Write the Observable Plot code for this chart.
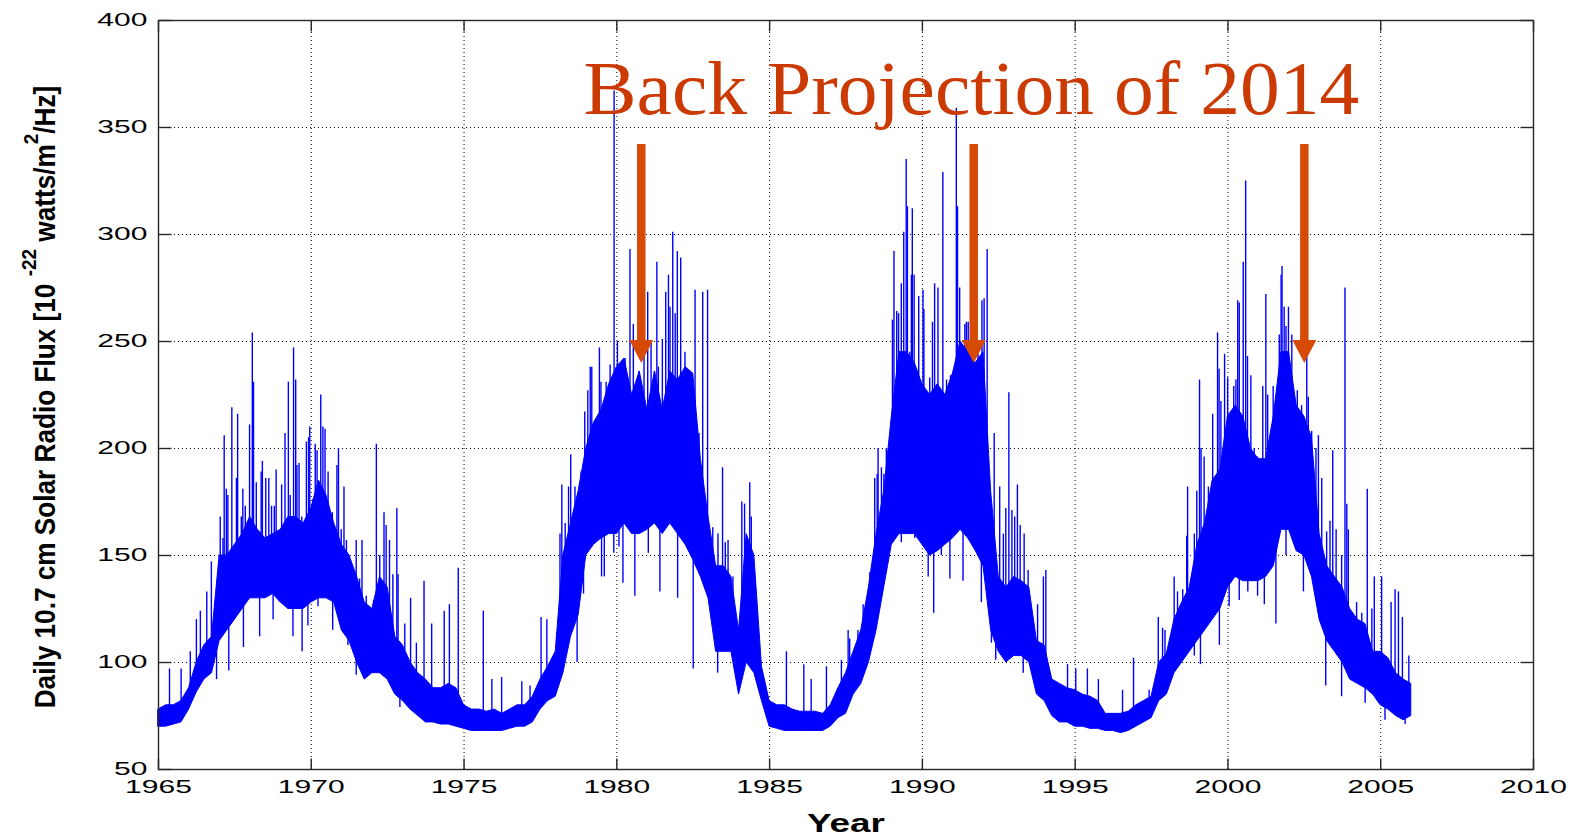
<!DOCTYPE html>
<html>
<head>
<meta charset="utf-8">
<script src="https://cdn.jsdelivr.net/npm/d3@7"></script>
<script src="https://cdn.jsdelivr.net/npm/@observablehq/plot@0.6"></script>
<style>
  html, body { margin: 0; padding: 0; background: #fff; }
  #chart { width: 1577px; height: 837px; }
</style>
</head>
<body>
<div id="chart"></div>
<script>
// Daily 10.7 cm solar radio flux, 1965–2006.
// The dense daily trace is summarised as a low/high core envelope every quarter year,
// plus the individual days that reach above it (flares) and below it (quiet days).
const startYear = 1965;
const stepYears = 0.25;

const lowFlux = [
  70, 70, 71, 72,     78, 86, 92, 95,     110, 115, 120, 125,  130, 130, 130, 132,
  128, 125, 125, 125, 128, 130, 130, 128, 115, 110, 100, 92,   95, 95, 92, 85,
  82, 78, 75, 72,     72, 71, 71, 70,     69, 68, 68, 68,      68, 68, 69, 70,
  70, 72, 78, 82,     84, 95, 112, 122,   150, 155, 158, 160,  160, 165, 160, 160,
  162, 165, 160, 165, 160, 155, 148, 140, 130, 105, 105, 105,  85, 100, 95, 82,
  70, 69, 68, 68,     68, 68, 68, 68,     70, 74, 76, 85,      90, 100, 115, 135,
  155, 160, 160, 160, 155, 150, 152, 155, 158, 162, 158, 152,  145, 115, 105, 100,
  103, 103, 100, 85,  82, 75, 72, 72,     70, 70, 69, 69,      68, 68, 67, 68,
  70, 72, 74, 82,     85, 95, 100, 105,   110, 115, 120, 125,  135, 140, 138, 138,
  138, 140, 145, 162, 162, 152, 150, 140, 120, 110, 105, 100,  92, 90, 88, 85,
  80, 78, 75, 73,     75
];
const highFlux = [
  78, 80, 80, 82,     88, 100, 108, 112,  150, 150, 155, 160,  168, 162, 158, 160,
  162, 168, 168, 165, 172, 185, 178, 165, 155, 150, 140, 128,  125, 140, 135, 112,
  108, 100, 95, 92,   88, 88, 90, 88,     80, 78, 78, 77,      78, 76, 78, 80,
  80, 84, 92, 98,     105, 150, 165, 180, 200, 212, 218, 230,  238, 242, 225, 236,
  218, 236, 218, 236, 232, 238, 235, 195, 168, 145, 145, 140,  115, 160, 150, 98,
  82, 80, 80, 78,     77, 77, 77, 76,     80, 88, 95, 105,     115, 135, 160, 180,
  215, 245, 245, 240, 230, 225, 230, 225, 235, 250, 245, 240,  245, 180, 140, 135,
  140, 138, 135, 110, 108, 92, 90, 88,    87, 85, 84, 82,      76, 76, 76, 77,
  80, 82, 84, 100,    104, 120, 128, 135, 155, 165, 185, 190,  215, 220, 215, 200,
  195, 195, 215, 245, 245, 220, 215, 205, 160, 145, 140, 135,  125, 120, 118, 105,
  105, 102, 95, 92,   90
];

// days above the core envelope
const spikeYears = [
  1965.36, 1965.74, 1966.04, 1966.24, 1966.37, 1966.58, 1966.73, 1967.02, 1967.11, 1967.15,
  1967.22, 1967.27, 1967.40, 1967.55, 1967.59, 1967.71, 1967.76, 1967.84, 1967.98, 1968.07,
  1968.11, 1968.20, 1968.36, 1968.40, 1968.51, 1968.61, 1968.70, 1968.79, 1968.85, 1968.96,
  1969.03, 1969.14, 1969.25, 1969.31, 1969.42, 1969.49, 1969.53, 1969.60, 1969.69, 1969.84,
  1969.91, 1969.95, 1970.05, 1970.13, 1970.19, 1970.31, 1970.38, 1970.45, 1970.55, 1970.69,
  1970.84, 1970.89, 1970.98, 1971.07, 1971.15, 1971.31, 1971.47, 1971.58, 1971.66, 1971.80,
  1972.04, 1972.13, 1972.24, 1972.38, 1972.45, 1972.56, 1972.67, 1972.80, 1972.84, 1973.06,
  1973.25, 1973.44, 1973.69, 1973.94, 1974.35, 1974.52, 1974.81, 1975.63, 1975.91, 1976.23,
  1976.89, 1977.16, 1977.52, 1977.71, 1978.03, 1978.14, 1978.20, 1978.31, 1978.42, 1978.49,
  1978.63, 1978.74, 1978.83, 1978.95, 1979.05, 1979.13, 1979.18, 1979.43, 1979.48, 1979.65,
  1979.78, 1979.91, 1980.02, 1980.27, 1980.43, 1980.54, 1980.73, 1980.89, 1981.01, 1981.12,
  1981.23, 1981.31, 1981.36, 1981.49, 1981.60, 1981.69, 1981.74, 1981.83, 1981.91, 1981.98,
  1982.09, 1982.23, 1982.40, 1982.56, 1982.69, 1982.81, 1982.97, 1983.14, 1983.31, 1983.46,
  1983.55, 1983.64, 1983.80, 1984.09, 1984.18, 1984.35, 1984.40, 1985.55, 1986.12, 1986.36,
  1986.86, 1987.35, 1987.57, 1987.62, 1987.89, 1988.06, 1988.13, 1988.28, 1988.38, 1988.44,
  1988.52, 1988.55, 1988.66, 1988.74, 1988.82, 1988.88, 1989.02, 1989.07, 1989.16, 1989.22,
  1989.31, 1989.39, 1989.47, 1989.51, 1989.59, 1989.64, 1989.67, 1989.73, 1989.88, 1990.02,
  1990.05, 1990.24, 1990.33, 1990.40, 1990.51, 1990.67, 1990.79, 1990.92, 1991.11, 1991.15,
  1991.22, 1991.39, 1991.44, 1991.50, 1991.82, 1991.95, 1992.02, 1992.12, 1992.18, 1992.35,
  1992.53, 1992.65, 1992.73, 1992.83, 1992.93, 1993.02, 1993.11, 1993.20, 1993.33, 1993.46,
  1993.77, 1993.96, 1994.04, 1994.75, 1995.02, 1995.40, 1995.76, 1996.55, 1996.91, 1997.42,
  1997.72, 1997.86, 1997.94, 1998.13, 1998.24, 1998.35, 1998.46, 1998.52, 1998.65, 1998.68,
  1998.90, 1998.98, 1999.07, 1999.12, 1999.22, 1999.36, 1999.50, 1999.66, 1999.71, 1999.77,
  1999.89, 1999.99, 2000.19, 2000.26, 2000.32, 2000.37, 2000.50, 2000.58, 2000.64, 2000.75,
  2000.86, 2000.97, 2001.14, 2001.24, 2001.30, 2001.48, 2001.68, 2001.74, 2001.77, 2001.84,
  2001.90, 2001.98, 2002.09, 2002.27, 2002.41, 2002.58, 2002.63, 2002.74, 2002.88, 2002.96,
  2003.07, 2003.23, 2003.34, 2003.43, 2003.54, 2003.72, 2003.83, 2003.89, 2003.94, 2004.21,
  2004.38, 2004.56, 2004.71, 2004.79, 2005.03, 2005.34, 2005.47, 2005.58, 2005.71, 2005.92
];
const spikeFlux = [
  97, 97, 105, 120, 124, 133, 147, 168, 158, 206,
  181, 178, 219, 186, 216, 168, 181, 173, 211, 254,
  231, 184, 189, 194, 186, 186, 173, 173, 190, 150,
  183, 207, 231, 178, 247, 232, 192, 193, 168, 203,
  205, 210, 176, 202, 199, 225, 210, 209, 189, 170,
  192, 200, 162, 182, 157, 141, 157, 139, 157, 131,
  129, 202, 150, 170, 164, 157, 141, 172, 141, 118,
  130, 109, 138, 118, 124, 127, 144, 124, 92, 93,
  91, 89, 121, 120, 114, 160, 183, 165, 182, 197,
  182, 179, 189, 217, 227, 238, 238, 247, 231, 231,
  239, 367, 250, 242, 293, 258, 236, 245, 273, 250,
  236, 287, 238, 251, 273, 281, 266, 301, 263, 292,
  289, 245, 231, 274, 207, 273, 274, 163, 160, 191,
  156, 157, 140, 175, 174, 184, 168, 105, 99, 92,
  98, 101, 115, 111, 115, 127, 123, 142, 146, 186,
  188, 200, 191, 188, 200, 194, 260, 292, 264, 263,
  277, 301, 335, 313, 245, 281, 312, 281, 271, 274,
  265, 233, 259, 277, 275, 329, 232, 234, 359, 313,
  275, 258, 259, 259, 249, 269, 270, 293, 186, 207,
  182, 160, 172, 226, 171, 168, 183, 164, 160, 143,
  127, 140, 143, 99, 97, 97, 92, 87, 102, 87,
  121, 116, 115, 105, 140, 133, 127, 134, 159, 182,
  160, 180, 232, 200, 196, 182, 216, 254, 237, 222,
  244, 233, 229, 232, 269, 268, 287, 325, 243, 234,
  200, 196, 229, 272, 225, 229, 253, 281, 285, 266,
  257, 266, 253, 227, 220, 243, 224, 208, 200, 206,
  186, 161, 166, 199, 162, 150, 275, 174, 162, 128,
  123, 181, 125, 140, 140, 128, 134, 133, 121, 103
];

// days below the core envelope
const dipYears = [
  1966.90, 1967.22, 1967.30, 1967.78, 1968.31, 1968.75, 1969.40, 1969.70, 1969.89, 1970.22,
  1970.70, 1971.09, 1971.20, 1971.47, 1972.90, 1978.70, 1978.91, 1979.26, 1979.50, 1979.59,
  1979.90, 1980.07, 1980.20, 1980.59, 1981.03, 1981.41, 1981.99, 1982.50, 1983.30, 1989.00,
  1989.31, 1989.75, 1990.19, 1990.37, 1990.62, 1990.90, 1991.33, 1991.55, 1991.93, 1992.26,
  1992.40, 1993.30, 1998.90, 1999.10, 1999.44, 1999.72, 2000.04, 2000.37, 2000.65, 2000.97,
  2001.19, 2001.57, 2001.90, 2001.95, 2002.47, 2003.20, 2003.72, 2004.49, 2005.14, 2005.80
];
const dipFlux = [
  92, 118, 96, 107, 112, 120, 112, 105, 117, 126,
  115, 118, 108, 94, 79, 100, 132, 157, 140, 140,
  151, 154, 137, 131, 151, 133, 130, 97, 95, 156,
  156, 158, 140, 123, 150, 139, 138, 160, 128, 109,
  101, 95, 103, 99, 128, 108, 126, 129, 133, 131,
  127, 118, 150, 166, 133, 89, 84, 81, 73, 71
];

// Axis ticks and grid
const xTicks = [1965, 1970, 1975, 1980, 1985, 1990, 1995, 2000, 2005, 2010];
const yTicks = [50, 100, 150, 200, 250, 300, 350, 400];
const xGrid = [1970, 1975, 1980, 1985, 1990, 1995, 2000, 2005];
const yGrid = [100, 150, 200, 250, 300, 350];

// Annotation arrows: one cycle-length back from 2014
const arrowYears = [1980.8, 1991.68, 2002.5];
const arrowTopFlux = [342, 342, 342];
const arrowHeadFlux = [250, 250, 250];
const arrowTipFlux = [240, 240, 240];

const titleText = "Back Projection of 2014";

// ---- derived tables ----
const band = lowFlux.map((lo, i) => ({year: startYear + i * stepYears, lo, hi: highFlux[i]}));
function bandMid(t) {
  const i = Math.max(0, Math.min(band.length - 1, Math.round((t - startYear) / stepYears)));
  return (band[i].lo + band[i].hi) / 2;
}
const spikes = spikeYears.map((year, i) => ({year, base: bandMid(year), flux: spikeFlux[i]}));
const dips = dipYears.map((year, i) => ({year, base: bandMid(year), flux: dipFlux[i]}));
const arrows = arrowYears.map((year, i) => ({year, top: arrowTopFlux[i], head: arrowHeadFlux[i], tip: arrowTipFlux[i]}));

// ---- symbols for inward ticks and arrow heads ----
const tickUp = {draw(c) { c.moveTo(0, 0); c.lineTo(0, -11); }};
const tickDown = {draw(c) { c.moveTo(0, 0); c.lineTo(0, 11); }};
const tickRight = {draw(c) { c.moveTo(0, 0); c.lineTo(13, 0); }};
const tickLeft = {draw(c) { c.moveTo(0, 0); c.lineTo(-13, 0); }};
const arrowHead = {draw(c) { c.moveTo(0, 0); c.lineTo(-12, -23); c.lineTo(12, -23); c.closePath(); }};

const lineBlue = "#0000ff";
const axisInk = "#262626";
const arrowInk = "#d64a06";
const titleInk = "#cc3a04";

const chart = Plot.plot({
  width: 1577,
  height: 837,
  marginTop: 20,
  marginRight: 44,
  marginBottom: 68,
  marginLeft: 158,
  style: {background: "#fff", fontFamily: "'Liberation Sans', Arial, sans-serif", color: "#000"},
  x: {domain: [1965, 2010], axis: null},
  y: {domain: [50, 400], axis: null},
  marks: [
    // dotted grid
    Plot.ruleX(xGrid, {x: d => d, stroke: "#000", strokeWidth: 1, strokeDasharray: "1,3"}),
    Plot.ruleY(yGrid, {y: d => d, stroke: "#000", strokeWidth: 1, strokeDasharray: "1,3"}),

    // daily flux trace
    Plot.areaY(band, {x: "year", y1: "lo", y2: "hi", fill: lineBlue, stroke: lineBlue, strokeWidth: 1, curve: "linear"}),
    Plot.ruleX(spikes, {x: "year", y1: "base", y2: "flux", stroke: lineBlue, strokeWidth: 1.4}),
    Plot.ruleX(dips, {x: "year", y1: "base", y2: "flux", stroke: lineBlue, strokeWidth: 1.4}),

    // box and inward ticks
    Plot.frame({stroke: axisInk, strokeWidth: 1.4}),
    Plot.dot(xTicks, {x: d => d, frameAnchor: "bottom", symbol: tickUp, stroke: axisInk, fill: "none", strokeWidth: 1.4}),
    Plot.dot(xTicks, {x: d => d, frameAnchor: "top", symbol: tickDown, stroke: axisInk, fill: "none", strokeWidth: 1.4}),
    Plot.dot(yTicks, {y: d => d, frameAnchor: "left", symbol: tickRight, stroke: axisInk, fill: "none", strokeWidth: 1.4}),
    Plot.dot(yTicks, {y: d => d, frameAnchor: "right", symbol: tickLeft, stroke: axisInk, fill: "none", strokeWidth: 1.4}),

    // tick labels
    Plot.text(xTicks, {x: d => d, text: d => String(d), frameAnchor: "bottom", lineAnchor: "top", dy: 11,
      fontSize: 18, fill: "#000", ariaDescription: "x-tick-labels"}),
    Plot.text(yTicks, {y: d => d, text: d => String(d), frameAnchor: "left", textAnchor: "end", dx: -11,
      fontSize: 18, fill: "#000", ariaDescription: "y-tick-labels"}),

    // x axis title
    Plot.text(["Year"], {text: d => d, frameAnchor: "bottom", lineAnchor: "bottom", dy: 62,
      fontSize: 26, fontWeight: "bold", fill: "#000", ariaDescription: "x-title"}),

    // arrows
    Plot.ruleX(arrows, {x: "year", y1: "top", y2: "head", stroke: arrowInk, strokeWidth: 8.5}),
    Plot.dot(arrows, {x: "year", y: "tip", symbol: arrowHead, fill: arrowInk, stroke: "none"}),

    // headline
    Plot.text([titleText], {text: d => d, frameAnchor: "top-left", textAnchor: "start", lineAnchor: "bottom",
      dx: 425, dy: 93, fontSize: 76, fill: titleInk, fontFamily: "'Liberation Serif', 'DejaVu Serif', serif",
      ariaDescription: "headline"})
  ]
});

document.getElementById("chart").append(chart);

// ---- text widths: the axis lettering is drawn wide, the y title narrow ----
const svg = d3.select(chart);
function stretchTo(selection, factorFor) {
  selection.each(function () {
    const f = factorFor(this);
    const t = this.getAttribute("transform") || "";
    this.setAttribute("transform", `${t} scale(${f},1)`);
  });
}
stretchTo(svg.selectAll('g[aria-description="x-tick-labels"] text'), () => 1.67);
stretchTo(svg.selectAll('g[aria-description="y-tick-labels"] text'), () => 1.67);
stretchTo(svg.selectAll('g[aria-description="x-title"] text'), n => 78 / n.getComputedTextLength());
stretchTo(svg.selectAll('g[aria-description="headline"] text'), n => 776 / n.getComputedTextLength());

// y axis title with superscripts
const yTitle = svg.append("text")
  .attr("font-family", "'Liberation Sans', Arial, sans-serif")
  .attr("font-weight", "bold")
  .attr("font-size", 29)
  .attr("fill", "#000")
  .attr("text-anchor", "middle");
yTitle.append("tspan").text("Daily 10.7 cm Solar Radio Flux [10 ");
yTitle.append("tspan").attr("font-size", 21).attr("dy", -19).text("-22");
yTitle.append("tspan").attr("dy", 19).text(" watts/m");
yTitle.append("tspan").attr("font-size", 21).attr("dy", -17).text("2");
yTitle.append("tspan").attr("dy", 17).text("/Hz]");
const yTitleLen = yTitle.node().getComputedTextLength();
yTitle.attr("transform", `translate(55,397) rotate(-90) scale(${623 / yTitleLen},1)`);
</script>
</body>
</html>
